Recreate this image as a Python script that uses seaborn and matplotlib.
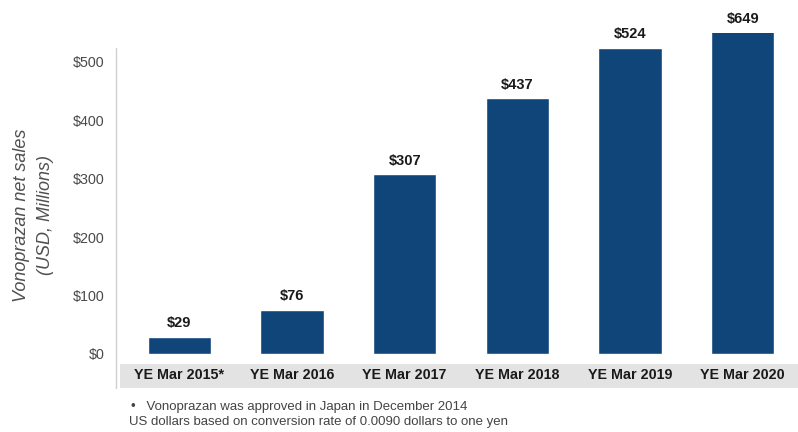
import matplotlib
matplotlib.use("Agg")
import matplotlib.pyplot as plt
from matplotlib.lines import Line2D
from matplotlib.patches import Rectangle
import seaborn as sns
import pandas as pd

# Fiscal years and net sales (USD, millions)
years = ["YE Mar 2015*", "YE Mar 2016", "YE Mar 2017",
         "YE Mar 2018", "YE Mar 2019", "YE Mar 2020"]
sales = [29, 76, 307, 437, 524, 649]
value_labels = ["$29", "$76", "$307", "$437", "$524", "$649"]
y_ticks = [0, 100, 200, 300, 400, 500]
y_tick_labels = ["$0", "$100", "$200", "$300", "$400", "$500"]
footnotes = ["•   Vonoprazan was approved in Japan in December 2014",
             "US dollars based on conversion rate of 0.0090 dollars to one yen"]

sns.set_theme(style="white")
plt.rcParams["font.family"] = ["Liberation Sans", "DejaVu Sans"]

df = pd.DataFrame({"year": years, "sales": sales})

W, H = 798, 432
fig = plt.figure(figsize=(W / 100, H / 100), dpi=100)
fig.patch.set_facecolor("white")

ax_left, ax_right = 116, 798
ax_top, ax_bottom = 33, 354
ax = fig.add_axes([ax_left / W, 1 - ax_bottom / H,
                   (ax_right - ax_left) / W, (ax_bottom - ax_top) / H])

bar_color = "#10457a"
sns.barplot(data=df, x="year", y="sales", color=bar_color, width=0.56,
            saturation=1, ax=ax, zorder=3)

px_per_cat = 112.7
ax.set_xlim(-0.5 - 7 / px_per_cat, 5.5 - 1 / px_per_cat)
y_top = 549
ax.set_ylim(0, y_top)
px_per_unit = (ax_bottom - ax_top) / y_top

for sp in ax.spines.values():
    sp.set_visible(False)

ax.set_yticks(y_ticks)
ax.set_yticklabels(y_tick_labels, fontsize=10.3, color="#4a4a4a")
ax.tick_params(axis="y", length=0, pad=8)
ax.tick_params(axis="x", length=0, pad=10)
for lbl in ax.get_xticklabels():
    lbl.set_fontweight("bold")
    lbl.set_fontsize(10.3)
    lbl.set_color("#1a1a1a")
ax.set_xlabel("")
ax.set_ylabel("")

# value labels above bars (tallest bar is cut at the top of the axis)
for i, (v, t) in enumerate(zip(sales, value_labels)):
    y = min(v, y_top)
    ax.annotate(t, xy=(i, y), xytext=(0, 5), textcoords="offset points",
                ha="center", va="bottom", fontsize=10.5, fontweight="bold",
                color="#1a1a1a", annotation_clip=False)

# grey band behind the category labels
band_top = -(364 - ax_bottom) / px_per_unit
band_bot = -(388 - ax_bottom) / px_per_unit
ax.add_patch(Rectangle(((120 - ax_left) / (ax_right - ax_left), band_bot),
                       1.0, band_top - band_bot,
                       transform=ax.get_yaxis_transform(),
                       facecolor="#e3e3e3", edgecolor="none",
                       clip_on=False, zorder=0.5))

# thin vertical axis line
line_top = (ax_bottom - 48) / px_per_unit
ax.add_line(Line2D([0, 0], [band_bot, line_top],
                   transform=ax.get_yaxis_transform(),
                   color="#d0d0d0", lw=1.0, clip_on=False, zorder=1))

# axis title in two italic lines
fig.text(22 / W, 1 - 215 / H, "Vonoprazan net sales", rotation=90,
         ha="center", va="center", fontsize=13, style="italic",
         color="#505050")
fig.text(46 / W, 1 - 215 / H, "(USD, Millions)", rotation=90,
         ha="center", va="center", fontsize=13, style="italic",
         color="#505050")

# footnotes
fig.text(131 / W, 1 - 407 / H, footnotes[0], ha="left", va="center",
         fontsize=9.5, color="#444444")
fig.text(129 / W, 1 - 422 / H, footnotes[1], ha="left", va="center",
         fontsize=9.5, color="#444444")

fig.savefig("out.png", dpi=100, facecolor="white")
